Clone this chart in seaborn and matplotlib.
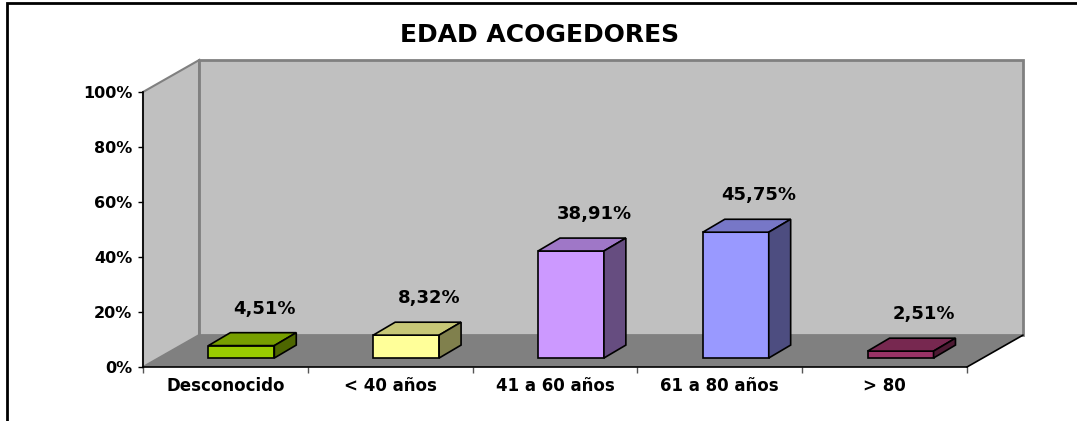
import numpy as np
import matplotlib
matplotlib.use("Agg")
import matplotlib.pyplot as plt
import matplotlib.patches as mpatches
from matplotlib.transforms import Affine2D
from matplotlib.colors import to_rgb
import seaborn as sns

# Data
categories = ["Desconocido", "< 40 años", "41 a 60 años", "61 a 80 años", "> 80"]
values = [4.51, 8.32, 38.91, 45.75, 2.51]
colors = ["#99CC00", "#FFFF99", "#CC99FF", "#9999FF", "#993366"]
yticks = [0, 20, 40, 60, 80, 100]
title = "EDAD ACOGEDORES"

sns.set_style("white")
plt.rcParams['font.family'] = ['DejaVu Sans']
plt.rcParams['text.color'] = 'black'
plt.rcParams['xtick.color'] = 'black'
plt.rcParams['ytick.color'] = 'black'

W, H = 1077, 421
fig = plt.figure(figsize=(W / 100, H / 100), dpi=100)
ax = fig.add_axes([143 / W, (H - 367) / H, (967 - 143) / W, (367 - 92) / H])

# depth of the walls and of the bars (data units of this axes)
wall_dx, wall_dy = 0.34, 11.6
bar_dx0, bar_dy0 = 0.097, 3.27
bar_dx, bar_dy = 0.133, 4.7

# front faces of the bars
sns.barplot(x=categories, y=values, hue=categories, palette=colors, legend=False,
            width=0.4, edgecolor="black", linewidth=1.2, saturation=1, ax=ax)
bars = [p for p in ax.patches if isinstance(p, mpatches.Rectangle)]

# walls and floor
back = mpatches.Polygon([(-0.5 + wall_dx, wall_dy), (4.5 + wall_dx, wall_dy),
                         (4.5 + wall_dx, 100 + wall_dy), (-0.5 + wall_dx, 100 + wall_dy)],
                        closed=True, facecolor="#C0C0C0", edgecolor="#808080",
                        lw=2, clip_on=False, zorder=0.5)
side = mpatches.Polygon([(-0.5, 0), (-0.5 + wall_dx, wall_dy),
                         (-0.5 + wall_dx, 100 + wall_dy), (-0.5, 100)],
                        closed=True, facecolor="#C0C0C0", edgecolor="#808080",
                        lw=1.5, clip_on=False, zorder=0.5)
floor = mpatches.Polygon([(-0.5, 0), (4.5, 0), (4.5 + wall_dx, wall_dy), (-0.5 + wall_dx, wall_dy)],
                         closed=True, facecolor="#808080", edgecolor="none",
                         clip_on=False, zorder=0.6)
for p in (back, side, floor):
    ax.add_patch(p)
ax.plot([4.5, 4.5 + wall_dx], [0, wall_dy], color="black", lw=1.2, clip_on=False, zorder=0.7)

shift = Affine2D().translate(bar_dx0, bar_dy0) + ax.transData
for bar, col in zip(bars, colors):
    bar.set_transform(shift)
    bar.set_clip_on(False)
    bar.set_zorder(2)
    x0, x1, h = bar.get_x(), bar.get_x() + bar.get_width(), bar.get_height()
    rgb = np.array(to_rgb(col))
    top = mpatches.Polygon([(x0, h), (x1, h), (x1 + bar_dx, h + bar_dy), (x0 + bar_dx, h + bar_dy)],
                           closed=True, facecolor=rgb * 0.78, edgecolor="black", lw=1.2,
                           transform=shift, clip_on=False, zorder=2)
    rside = mpatches.Polygon([(x1, 0), (x1 + bar_dx, bar_dy), (x1 + bar_dx, h + bar_dy), (x1, h)],
                             closed=True, facecolor=rgb * 0.5, edgecolor="black", lw=1.2,
                             transform=shift, clip_on=False, zorder=2)
    ax.add_patch(top)
    ax.add_patch(rside)

for i, v in enumerate(values):
    ax.annotate(f"{v:.2f}%".replace(".", ","), (i, v), xytext=(28, 33),
                textcoords="offset points", ha="center", va="center",
                fontsize=13, fontweight="bold", color="black", zorder=3)

ax.set_xlim(-0.5, 4.5)
ax.set_ylim(0, 100)
ax.set_facecolor("none")
for s in ("top", "right"):
    ax.spines[s].set_visible(False)
for s in ("left", "bottom"):
    ax.spines[s].set_color("black")
    ax.spines[s].set_linewidth(1.2)
    ax.spines[s].set_zorder(2.5)

ax.set_yticks(yticks)
ax.set_yticklabels([f"{t}%" for t in yticks], fontsize=11.5, fontweight="bold")
ax.tick_params(axis="y", direction="out", length=3.6, width=1, color="black",
               labelcolor="black", pad=4, left=True)
ax.set_xticks(range(len(categories)))
ax.set_xticklabels(categories, fontsize=12, fontweight="bold")
ax.set_xticks(np.arange(-0.5, len(categories)), minor=True)
ax.tick_params(axis="x", which="major", length=0, pad=7, labelcolor="black")
ax.tick_params(axis="x", which="minor", direction="out", length=4, width=1,
               color="#555555", bottom=True)
ax.set_xlabel("")
ax.set_ylabel("")

fig.text(540 / W, 1 - 35 / H, title, ha="center", va="center",
         fontsize=18, fontweight="bold", color="black")

# outer frame
fig.add_artist(mpatches.Rectangle((7 / W, -0.1), 1.2, (H - 3) / H + 0.1, fill=False,
                                  edgecolor="black", lw=2, transform=fig.transFigure))

fig.savefig("out.png", dpi=100)
